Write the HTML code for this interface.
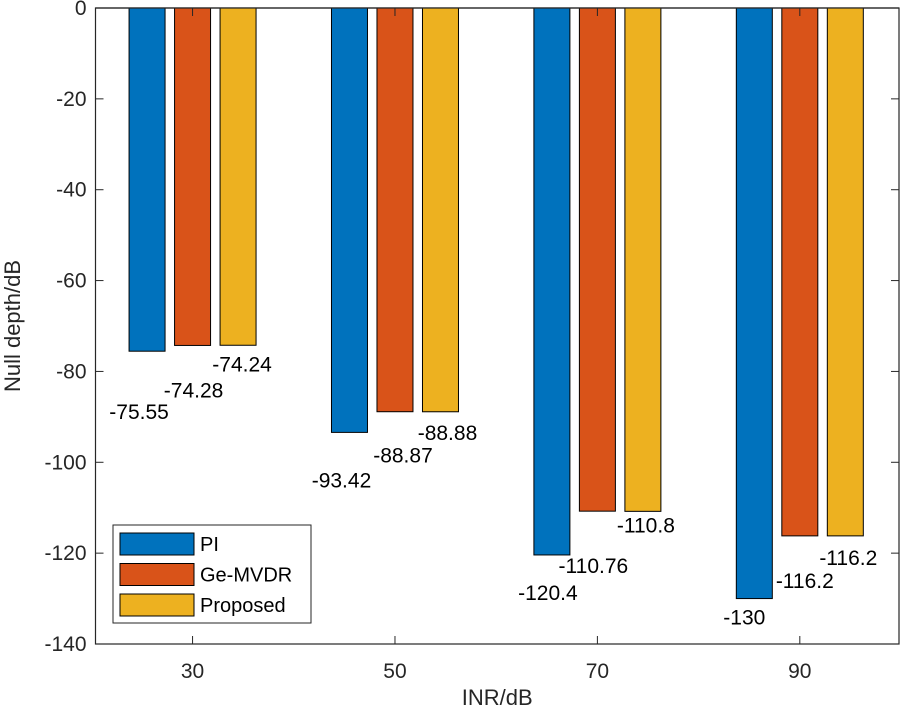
<!DOCTYPE html>
<html><head><meta charset="utf-8"><style>
body{margin:0;background:#fff}
svg{display:block;font-family:"Liberation Sans",Arial,sans-serif}
</style></head><body>
<svg id="chart" width="900" height="715"></svg>
<script>
const categories = [30, 50, 70, 90];
const seriesNames = ["PI", "Ge-MVDR", "Proposed"];
const piValues = [-75.55, -93.42, -120.4, -130];
const geValues = [-74.28, -88.87, -110.76, -116.2];
const propValues = [-74.24, -88.88, -110.8, -116.2];
const labelPI = ["-75.55", "-93.42", "-120.4", "-130"];
const labelGe = ["-74.28", "-88.87", "-110.76", "-116.2"];
const labelProp = ["-74.24", "-88.88", "-110.8", "-116.2"];
const yTicks = [0, -20, -40, -60, -80, -100, -120, -140];
const xTicks = [30, 50, 70, 90];

const colors = ["#0072BD", "#D95319", "#EDB120"];
const L = 95.5, R = 899, T = 8, B = 644;
const xMin = 20.41, xMax = 99.8, yMin = -140, yMax = 0;
const xs = v => L + (v - xMin) / (xMax - xMin) * (R - L);
const ys = v => T + (yMax - v) / (yMax - yMin) * (B - T);
const NS = "http://www.w3.org/2000/svg";
const svg = document.getElementById("chart");
function mk(tag, attrs, parent) {
  const e = document.createElementNS(NS, tag);
  for (const k in attrs) e.setAttribute(k, attrs[k]);
  (parent || svg).appendChild(e);
  return e;
}
const allVals = [piValues, geValues, propValues];
const allLabels = [labelPI, labelGe, labelProp];
const groupOff = [-45.5, 0, 45.5];
const labelDx = [[-8, -8, -4, -10], [1, 8, -4, 5], [4, 7, 3, 3]];
const labelDy = [[68, 55, 45, 26], [52, 51, 62, 52], [26, 28, 21, 29]];
const bw = 36;

mk("rect", {x: L, y: T, width: R - L, height: B - T, fill: "none", stroke: "#262626", "stroke-width": 1.2});

allVals.forEach((vals, s) => {
  vals.forEach((v, i) => {
    const cx = xs(categories[i]) + groupOff[s];
    const r = mk("rect", {x: cx - bw / 2, y: ys(0), width: bw, height: ys(v) - ys(0), fill: colors[s], stroke: "#000", "stroke-width": 1});
    
    
    const t = mk("text", {x: cx + labelDx[s][i], y: ys(v) + labelDy[s][i], "text-anchor": "middle", "font-size": 21, fill: "#000"});
    t.textContent = allLabels[s][i];
    
    
  });
});

mk("line", {x1: L, y1: T, x2: R, y2: T, stroke: "#262626", "stroke-width": 1.2});
yTicks.forEach(v => {
  mk("line", {x1: L, y1: ys(v), x2: L + 8, y2: ys(v), stroke: "#262626"});
  mk("line", {x1: R, y1: ys(v), x2: R - 8, y2: ys(v), stroke: "#262626"});
  const t = mk("text", {x: L - 9, y: ys(v) + 7, "text-anchor": "end", "font-size": 21, fill: "#262626"});
  t.textContent = v;
  
  
});
xTicks.forEach(v => {
  mk("line", {x1: xs(v), y1: B, x2: xs(v), y2: B - 8, stroke: "#262626"});
  mk("line", {x1: xs(v), y1: T, x2: xs(v), y2: T + 8, stroke: "#262626"});
  const t = mk("text", {x: xs(v), y: B + 34, "text-anchor": "middle", "font-size": 21, fill: "#262626"});
  t.textContent = v;
  
  
});
const xt = mk("text", {x: (L + R) / 2, y: 705, "text-anchor": "middle", "font-size": 22, fill: "#262626"});
xt.textContent = "INR/dB";


const yt = mk("text", {x: 0, y: 0, transform: "translate(20," + ((T + B) / 2) + ") rotate(-90)", "text-anchor": "middle", "font-size": 22, fill: "#262626"});
yt.textContent = "Null depth/dB";



const lg = mk("g", {});


mk("rect", {x: 113, y: 525, width: 198, height: 98, fill: "#fff", stroke: "#262626", "stroke-width": 1}, lg);
seriesNames.forEach((n, s) => {
  const cy = 544 + s * 30.5;
  const sw = mk("rect", {x: 120, y: cy - 11, width: 74, height: 22, fill: colors[s], stroke: "#000", "stroke-width": 1}, lg);
  
  
  const t = mk("text", {x: 200, y: cy + 7, "font-size": 20, fill: "#000"}, lg);
  t.textContent = n;
  
  
});
</script>
</body></html>
